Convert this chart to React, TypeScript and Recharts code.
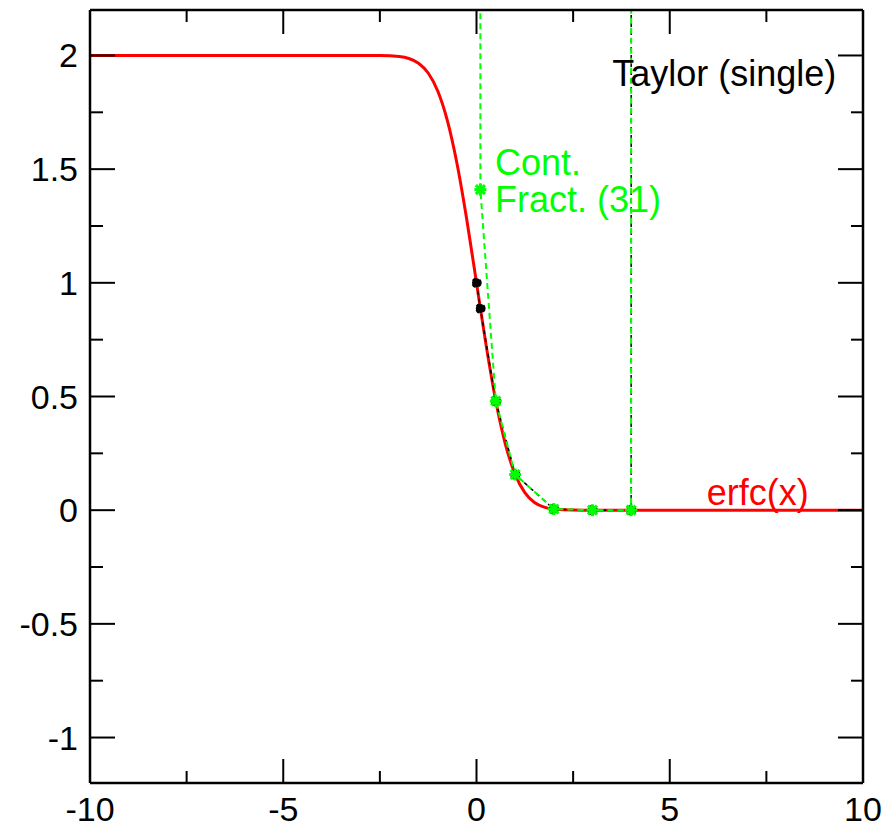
import { LineChart, Line, XAxis, YAxis, ReferenceDot } from "recharts"

// erfc(x)
const erfcX = [-10, -5, -3, -2.5, -2, -1.75, -1.5, -1.25, -1, -0.75, -0.5, -0.25, 0, 0.25, 0.5, 0.75, 1, 1.25, 1.5, 1.75, 2, 2.5, 3, 5, 10]
const erfcY = [2, 2, 2, 1.9996, 1.9953, 1.9867, 1.9661, 1.9229, 1.8427, 1.7112, 1.5205, 1.2763, 1, 0.7237, 0.4795, 0.2888, 0.1573, 0.0771, 0.0339, 0.0133, 0.0047, 0.0004, 0, 0, 0]

// Taylor (single) points, black dashed
const taylorX = [0, 0.1, 0.5, 1, 2, 3, 4, 5]
const taylorY = [1, 0.8875, 0.4795, 0.1573, 0.0047, 0, 0, 1000]

// Continued fraction (31 terms), green dashed
const cfracX = [0, 0.1, 0.5, 1, 2, 3, 4, 5]
const cfracY = [1000, 1.41, 0.48, 0.157, 0.005, 0, 0, 1000]

const xTicks = [-10, -7.5, -5, -2.5, 0, 2.5, 5, 7.5, 10]
const yTicks = [-1, -0.75, -0.5, -0.25, 0, 0.25, 0.5, 0.75, 1, 1.25, 1.5, 1.75, 2]

const erfcData = erfcX.map((x, i) => ({ x, y: erfcY[i] }))
const taylorData = taylorX.map((x, i) => ({ x, y: taylorY[i] }))
const cfracData = cfracX.map((x, i) => ({ x, y: cfracY[i] }))

const FONT = "'Liberation Sans', Arial, Helvetica, sans-serif"
const GREEN = "#00ff00"

const isMajorX = (v: number) => Math.abs(v % 5) < 1e-9
const isMajorY = (v: number) => Math.abs((v * 2) % 1) < 1e-9

function BottomTick(props: any) {
  const { x, y, payload } = props
  const v = payload.value
  const major = isMajorX(v)
  return (
    <g>
      <path d={`M${x},${y}V${y - (major ? 24 : 12)}`} stroke="#000" strokeWidth={2} fill="none" />
      {major ? (
        <text x={x} y={y + 38} textAnchor="middle" fontSize={34} fontFamily={FONT} fill="#000" stroke="none">
          {String(v)}
        </text>
      ) : null}
    </g>
  )
}

function TopTick(props: any) {
  const { x, y, payload } = props
  const major = isMajorX(payload.value)
  return <path d={`M${x},${y}V${y + (major ? 24 : 12)}`} stroke="#000" strokeWidth={2} fill="none" />
}

function LeftTick(props: any) {
  const { x, y, payload } = props
  const v = payload.value
  const major = isMajorY(v)
  return (
    <g>
      <path d={`M${x},${y}H${x + (major ? 25 : 13)}`} stroke="#000" strokeWidth={2} fill="none" />
      {major ? (
        <text x={x - 12} y={y + 12} textAnchor="end" fontSize={34} fontFamily={FONT} fill="#000" stroke="none">
          {String(v)}
        </text>
      ) : null}
    </g>
  )
}

function RightTick(props: any) {
  const { x, y, payload } = props
  const major = isMajorY(payload.value)
  return <path d={`M${x},${y}H${x - (major ? 25 : 12)}`} stroke="#000" strokeWidth={2} fill="none" />
}

function StarDot(props: any) {
  const { cx, cy, index } = props
  if (cx == null || cy == null) return <g key={index} />
  const s = 6
  const d = s * 0.75
  return (
    <g key={index} stroke={GREEN} strokeWidth={3}>
      <line x1={cx - s} y1={cy} x2={cx + s} y2={cy} />
      <line x1={cx} y1={cy - s} x2={cx} y2={cy + s} />
      <line x1={cx - d} y1={cy - d} x2={cx + d} y2={cy + d} />
      <line x1={cx - d} y1={cy + d} x2={cx + d} y2={cy - d} />
    </g>
  )
}

function note(lines: string[], color: string) {
  return ({ viewBox }: any) => (
    <text x={viewBox.x} y={viewBox.y} fontSize={36} fontFamily={FONT} fill={color}>
      {lines.map((t, i) => (
        <tspan key={i} x={viewBox.x} dy={i === 0 ? 0 : 37}>
          {t}
        </tspan>
      ))}
    </text>
  )
}

const frame = { stroke: "#000", strokeWidth: 2.5 }

export default function App() {
  return (
    <div style={{ position: "absolute", left: 0, top: 0, background: "#fff" }}>
      <LineChart width={891} height={829} margin={{ top: 9, right: 27, bottom: 0, left: 0 }}>
        <XAxis
          dataKey="x"
          type="number"
          domain={[-10, 10]}
          ticks={xTicks}
          interval={0}
          allowDataOverflow
          height={46}
          tickSize={0}
          tickMargin={0}
          tickLine={false}
          axisLine={frame}
          tick={BottomTick}
        />
        <XAxis
          xAxisId="top"
          orientation="top"
          dataKey="x"
          type="number"
          domain={[-10, 10]}
          ticks={xTicks}
          interval={0}
          allowDataOverflow
          height={1}
          tickSize={0}
          tickMargin={0}
          tickLine={false}
          axisLine={frame}
          tick={TopTick}
        />
        <YAxis
          type="number"
          domain={[-1.2, 2.2]}
          ticks={yTicks}
          interval={0}
          allowDataOverflow
          width={90}
          tickSize={0}
          tickMargin={0}
          tickLine={false}
          axisLine={frame}
          tick={LeftTick}
        />
        <YAxis
          yAxisId="right"
          orientation="right"
          type="number"
          domain={[-1.2, 2.2]}
          ticks={yTicks}
          interval={0}
          allowDataOverflow
          width={1}
          tickSize={0}
          tickMargin={0}
          tickLine={false}
          axisLine={frame}
          tick={RightTick}
        />

        {/* invisible series so the top and right axes are used */}
        <Line
          data={erfcData}
          dataKey="y"
          xAxisId="top"
          yAxisId="right"
          stroke="none"
          dot={false}
          activeDot={false}
          isAnimationActive={false}
        />

        <Line
          data={erfcData}
          dataKey="y"
          type="monotone"
          stroke="#ff0000"
          strokeWidth={3}
          dot={false}
          isAnimationActive={false}
        />
        <Line
          data={taylorData}
          dataKey="y"
          type="linear"
          stroke="#000"
          strokeWidth={1.5}
          strokeDasharray="4 4"
          dot={{ r: 4.5, fill: "#000", stroke: "#000" }}
          isAnimationActive={false}
        />
        <Line
          data={cfracData}
          dataKey="y"
          type="linear"
          stroke={GREEN}
          strokeWidth={2}
          strokeDasharray="6 4"
          strokeDashoffset={4}
          dot={StarDot}
          isAnimationActive={false}
        />

        <ReferenceDot x={3.51} y={1.864} r={0} fill="none" stroke="none" label={{ content: note(["Taylor (single)"], "#000") }} />
        <ReferenceDot x={0.479} y={1.474} r={0} fill="none" stroke="none" label={{ content: note(["Cont.", "Fract. (31)"], GREEN) }} />
        <ReferenceDot x={5.96} y={0.022} r={0} fill="none" stroke="none" label={{ content: note(["erfc(x)"], "#ff0000") }} />
      </LineChart>
    </div>
  )
}
